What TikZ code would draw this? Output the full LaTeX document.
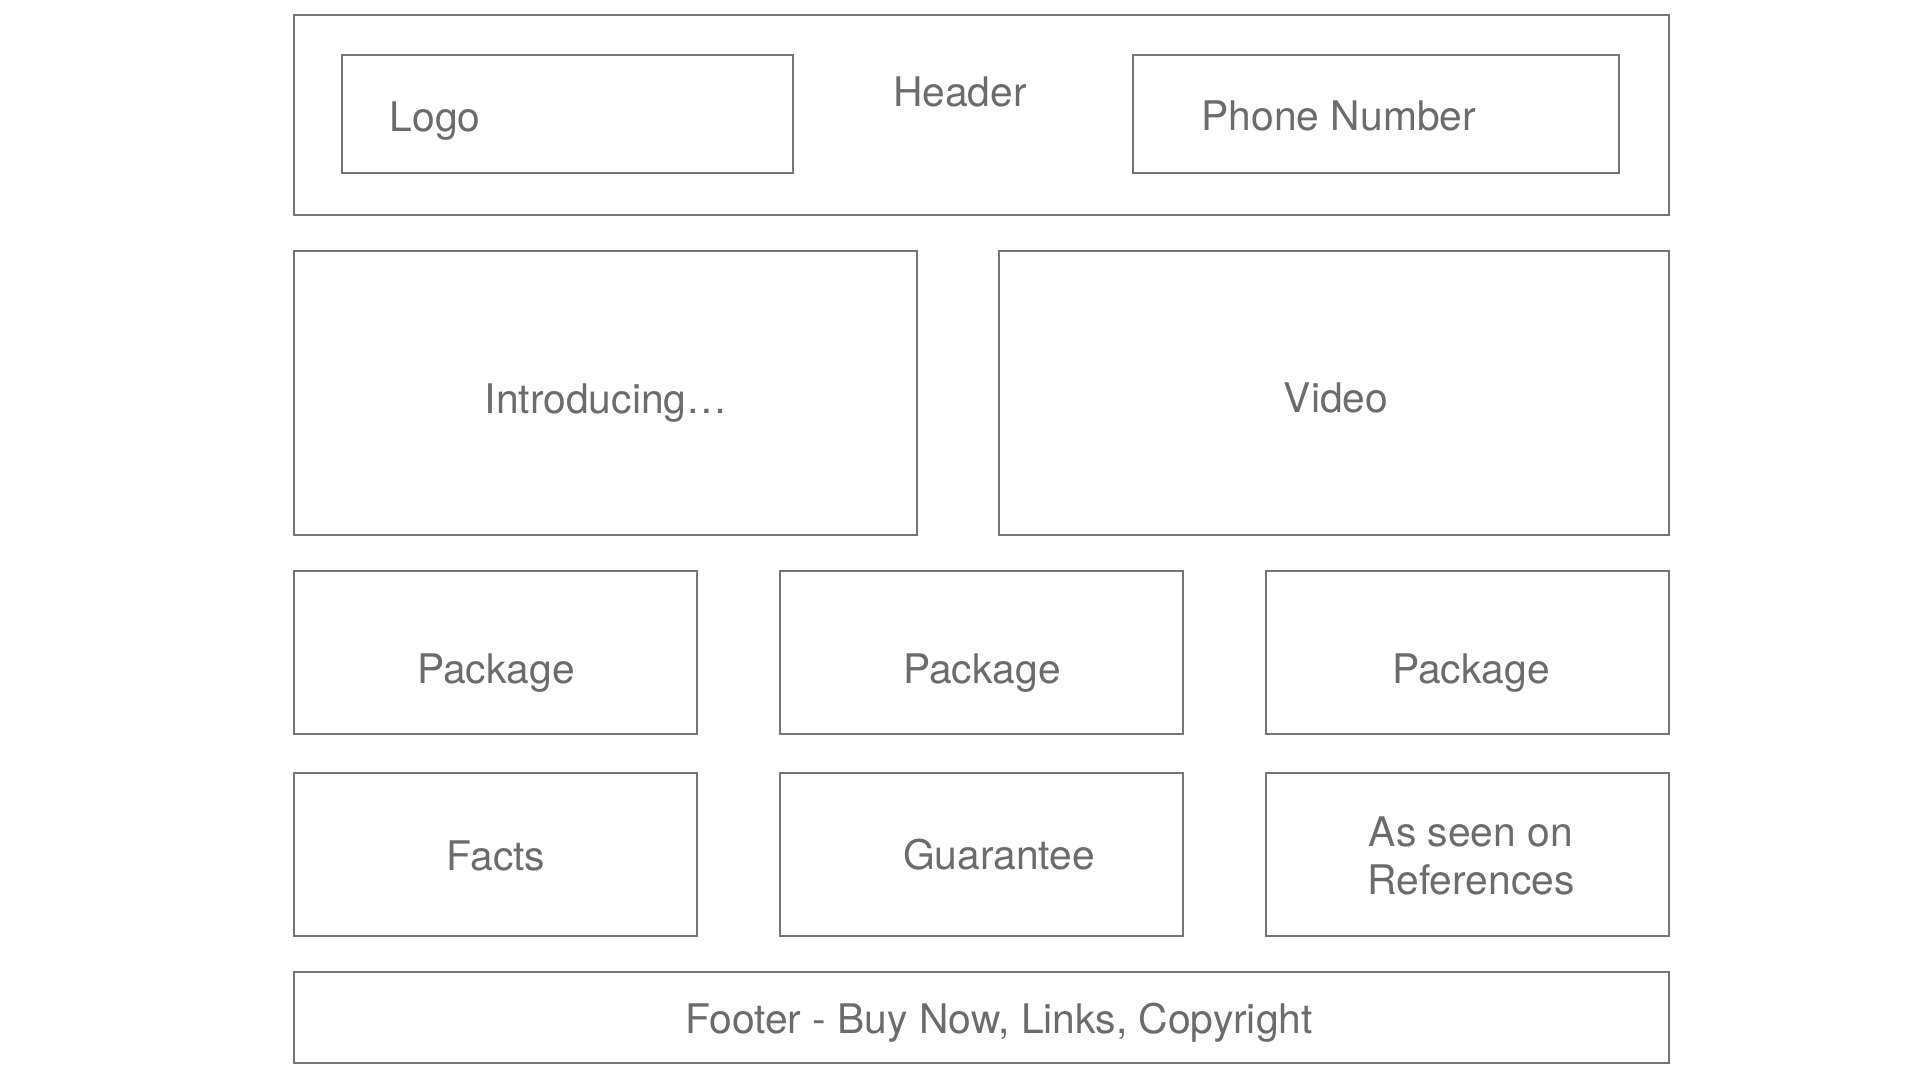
\documentclass[tikz,border=0pt]{standalone}
\usepackage{fontspec}
\setmainfont{TeX Gyre Heros}
\usetikzlibrary{fit}
\definecolor{framegray}{RGB}{118,118,118}
\definecolor{textgray}{RGB}{108,108,108}
\begin{document}
\begin{tikzpicture}[
  x=0.01cm, y=-0.01cm,
  font=\fontsize{11.6}{13.6}\selectfont,
  frame/.style={draw=framegray, line width=0.45pt, inner sep=0pt},
  lbl/.style={text=textgray, inner sep=0pt, align=center}
]
\useasboundingbox[fill=white] (0,0) rectangle (1920,1080);
% ---------------- header
\node[frame, fit={(294,15) (1669,215)}] (hdr) {};
\node[frame, fit={(342,55) (793,173)}] (logo) {};
\node[frame, fit={(1133,55) (1619,173)}] (phone) {};
\node[lbl, anchor=west] (tlogo) at (389,121) {Logo};
\node[lbl] (thdr) at (960,92) {Header};
\node[lbl, anchor=west] (tphone) at (1201,116) {Phone Number};
% ---------------- intro and video
\node[frame, fit={(294,251) (917,535)}] (intro) {};
\node[frame, fit={(999,251) (1669,535)}] (video) {};
\node[lbl] (tintro) at (606,403) {Introducing\ldots};
\node[lbl] (tvideo) at (1336,398) {Video};
% ---------------- packages
\node[frame, fit={(294,571) (697,734)}] (pk1) {};
\node[frame, fit={(780,571) (1183,734)}] (pk2) {};
\node[frame, fit={(1266,571) (1669,734)}] (pk3) {};
\node[lbl] (tpk1) at (496,673) {Package};
\node[lbl] (tpk2) at (982,673) {Package};
\node[lbl] (tpk3) at (1471,673) {Package};
% ---------------- facts, guarantee, references
\node[frame, fit={(294,773) (697,936)}] (facts) {};
\node[frame, fit={(780,773) (1183,936)}] (guar) {};
\node[frame, fit={(1266,773) (1669,936)}] (refs) {};
\node[lbl] (tfacts) at (496,856) {Facts};
\node[lbl] (tguar) at (999,855) {Guarantee};
\node[lbl] (trefs) at (1471,856) {As seen on\\References};
% ---------------- footer
\node[frame, fit={(294,972) (1669,1063)}] (foot) {};
\node[lbl] (tfoot) at (999,1023) {Footer - Buy Now, Links, Copyright};
\end{tikzpicture}
\end{document}
